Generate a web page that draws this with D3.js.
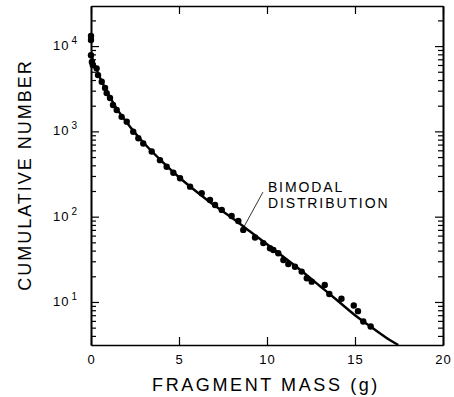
<!DOCTYPE html>
<html>
<head>
<meta charset="utf-8">
<script src="https://cdn.jsdelivr.net/npm/d3@7"></script>
<style>
  body { margin: 0; background: #fff; }
  svg { display: block; font-family: "Liberation Sans", Arial, sans-serif; }
</style>
</head>
<body>
<div id="chart"></div>
<script>
// tick labels
var massTicks = [0, 5, 10, 15, 20];
var countTicks = [10, 100, 1000, 10000];

var obsMass = [0, 0, 0, 0.05, 0.1, 0.32, 0.4, 0.61, 0.8, 0.89, 1.08, 1.25, 1.46, 1.74,
  2.03, 2.4, 2.69, 2.97, 3.45, 3.92, 4.3, 4.68, 5.06, 5.63, 6.29, 6.76, 7.05, 7.43,
  7.99, 8.37, 8.65, 9.32, 9.79, 10.17, 10.36, 10.64, 10.93, 11.21, 11.59, 11.97,
  12.26, 12.54, 13.28, 13.54, 14.23, 14.93, 15.17, 15.47, 15.89];
var obsCount = [13100, 11800, 7800, 6500, 6000, 5480, 4570, 3820, 3220, 2810, 2460, 2040, 1780, 1480,
  1300, 990, 830, 720, 580, 460, 385, 327, 282, 225, 188, 157, 137, 120,
  102, 89, 70, 57, 49, 42.6, 40.6, 37.2, 31.1, 27.9, 25.9, 22.7,
  19.0, 17.3, 15.8, 12.4, 10.9, 9.1, 7.8, 5.9, 5.15];

// bimodal fit curve
var fitMass = [0, 0.25, 0.5, 0.75, 1, 1.5, 2, 2.5, 3, 4, 5, 6, 7, 8, 9, 10, 11, 12, 13, 14, 15, 16, 17, 17.46];
var fitCount = [8000, 5800, 4300, 3350, 2700, 1800, 1300, 960, 730, 450, 290, 196, 136, 97, 68, 47.5,
  33, 22.8, 15.4, 10.4, 7.0, 4.95, 3.55, 3.13];

var W = 454, H = 397;
var margin = {top: 6, right: 11, bottom: 52, left: 91},
    width = W - margin.left - margin.right,
    height = H - margin.top - margin.bottom;

var svg = d3.select("#chart")
  .append("svg")
    .attr("width", W)
    .attr("height", H)
  .append("g")
    .attr("transform", "translate(" + margin.left + "," + margin.top + ")");

var x = d3.scaleLinear().domain([0, 20]).range([0, width]);
var y = d3.scaleLog().domain([3.13, 29500]).range([height, 0]);

var minorTicks = [];
[1, 10, 100, 1000, 10000].forEach(function(d) {
  for (var k = 2; k <= 9; k++) {
    var v = d * k;
    if (v > y.domain()[0] && v < y.domain()[1]) minorTicks.push(v);
  }
});

function styleAxis(g) {
  g.select(".domain").attr("stroke", "#000").attr("stroke-width", 1.6);
  g.selectAll(".tick line").attr("stroke", "#000").attr("stroke-width", 1.2);
}

// bottom axis
svg.append("g")
  .attr("transform", "translate(0," + height + ")")
  .call(d3.axisBottom(x).tickValues(massTicks).tickSize(-8).tickSizeOuter(0).tickPadding(10))
  .call(styleAxis)
  .call(function(g) {
    g.selectAll("text").attr("font-size", 13).attr("fill", "#000")
      .attr("font-family", "Liberation Sans, Arial, sans-serif").attr("letter-spacing", 1);
  });

// top axis
svg.append("g")
  .call(d3.axisTop(x).tickValues(massTicks).tickSize(-8).tickSizeOuter(0).tickFormat(""))
  .call(styleAxis);

// left axis, majors with 10^n labels
var left = svg.append("g")
  .call(d3.axisLeft(y).tickValues(countTicks).tickSize(-8).tickSizeOuter(0).tickFormat(""))
  .call(styleAxis);
left.append("g")
  .call(d3.axisLeft(y).tickValues(minorTicks).tickSize(-5).tickSizeOuter(0).tickFormat(""))
  .call(styleAxis);

left.selectAll(".lbl")
  .data(countTicks)
  .enter().append("text")
    .attr("class", "lbl")
    .attr("x", -14)
    .attr("y", function(d) { return y(d) + 4; })
    .attr("text-anchor", "end")
    .attr("font-size", 13)
    .attr("fill", "#000")
    .each(function(d) {
      var t = d3.select(this);
      t.append("tspan").attr("letter-spacing", 1).text("10");
      t.append("tspan").attr("dx", 2).attr("dy", -6).attr("font-size", 10)
        .text(Math.round(Math.log10(d)));
    });

// right axis
var right = svg.append("g")
  .attr("transform", "translate(" + width + ",0)")
  .call(d3.axisRight(y).tickValues(countTicks).tickSize(-8).tickSizeOuter(0).tickFormat(""))
  .call(styleAxis);
right.append("g")
  .call(d3.axisRight(y).tickValues(minorTicks).tickSize(-5).tickSizeOuter(0).tickFormat(""))
  .call(styleAxis);

// fit line
svg.append("path")
  .datum(d3.zip(fitMass, fitCount))
  .attr("fill", "none")
  .attr("stroke", "#000")
  .attr("stroke-width", 2.4)
  .attr("d", d3.line()
    .x(function(d) { return x(d[0]); })
    .y(function(d) { return y(d[1]); })
    .curve(d3.curveCatmullRom.alpha(0.5)));

// observed points
svg.selectAll(".dot")
  .data(d3.zip(obsMass, obsCount))
  .enter().append("circle")
    .attr("class", "dot")
    .attr("cx", function(d) { return x(d[0]); })
    .attr("cy", function(d) { return y(d[1]); })
    .attr("r", 3.2)
    .attr("fill", "#000");

// annotation
svg.append("line")
  .attr("x1", x(9.77)).attr("y1", y(194))
  .attr("x2", x(8.69)).attr("y2", y(76))
  .attr("stroke", "#000").attr("stroke-width", 0.8);

var note = svg.append("text")
  .attr("font-size", 14)
  .attr("letter-spacing", 1.9)
  .attr("fill", "#000");
note.append("tspan").attr("x", x(10.05)).attr("y", y(194)).text("BIMODAL");
note.append("tspan").attr("x", x(10.05)).attr("y", y(194) + 16).text("DISTRIBUTION");

// axis titles
svg.append("text")
  .attr("x", width / 2 - 1)
  .attr("y", height + 46)
  .attr("text-anchor", "middle")
  .attr("font-size", 18)
  .attr("letter-spacing", 2.6)
  .attr("fill", "#000")
  .text("FRAGMENT MASS (g)");

svg.append("text")
  .attr("transform", "translate(" + (-60) + "," + (175 - margin.top) + ") rotate(-90)")
  .attr("text-anchor", "middle")
  .attr("font-size", 18)
  .attr("letter-spacing", 2)
  .attr("fill", "#000")
  .text("CUMULATIVE NUMBER");
</script>
</body>
</html>
